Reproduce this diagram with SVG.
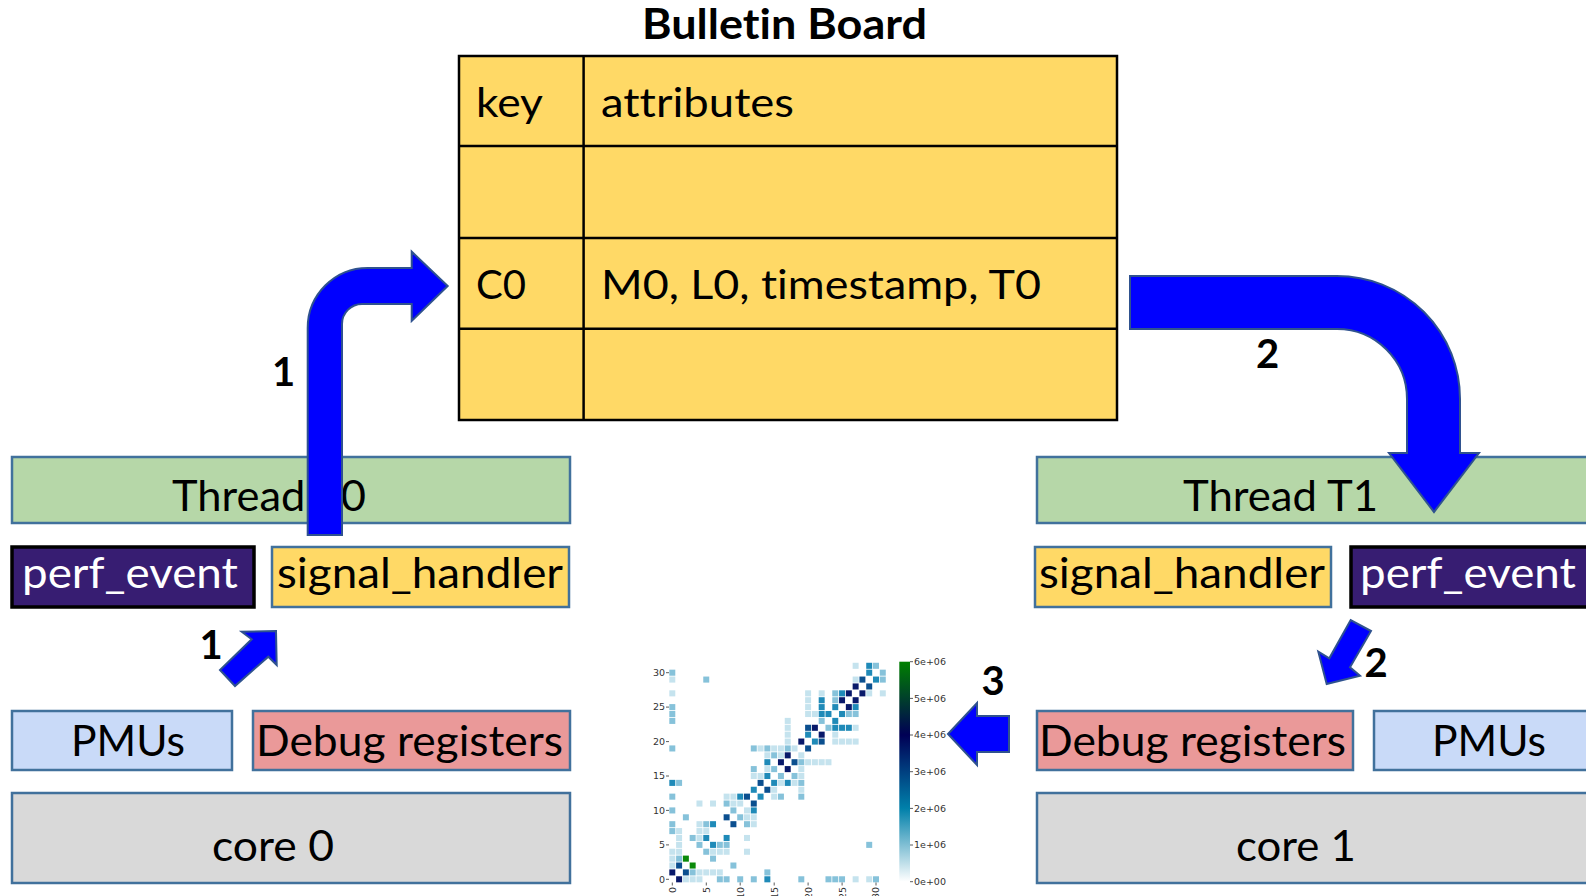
<svg xmlns="http://www.w3.org/2000/svg" width="1586" height="896" viewBox="0 0 1586 896">
<style>
  text { font-variant-ligatures: none; font-feature-settings: "liga" 0; }
  .t { font-family: Lato, "Open Sans", "Liberation Sans", sans-serif; font-size: 42px; fill: #000; }
  .tb { font-family: Lato, "Open Sans", "Liberation Sans", sans-serif; font-size: 40px; fill: #000; }
  .w { fill: #fff; }
  .num { font-family: Lato, "Open Sans", "Liberation Sans", sans-serif; font-size: 40px; font-weight: bold; fill: #000; text-anchor: middle; }
  .box { stroke: #41719c; stroke-width: 2.5; }
  .green { fill: #b6d7a8; }
  .yellow { fill: #ffd966; }
  .purple { fill: #371d72; stroke: #000; stroke-width: 3.5; }
  .pmu { fill: #c9daf8; }
  .dbg { fill: #ea9999; }
  .core { fill: #d9d9d9; }
  .arrow { fill: #0000ff; stroke: #2f528f; stroke-width: 2; stroke-linejoin: miter; }
  .tbl { fill: #ffd966; stroke: #000; stroke-width: 2.5; }
  .tl { stroke: #000; stroke-width: 2.5; }
  .ax { font-family: "DejaVu Sans", sans-serif; font-size: 9.5px; fill: #333; }
  .tick { stroke: #333; stroke-width: 0.8; }
  .L { fill: #c5e3ee; } .M { fill: #86c2da; } .T { fill: #1f8ab8; } .D { fill: #0b4f8f; } .N { fill: #08196a; } .G { fill: #0a8a0a; }
</style>
<defs>
  <linearGradient id="cbar" x1="0" y1="0" x2="0" y2="1">
    <stop offset="0" stop-color="#008000"/>
    <stop offset="0.1667" stop-color="#00402b"/>
    <stop offset="0.3333" stop-color="#000055"/>
    <stop offset="0.5" stop-color="#004080"/>
    <stop offset="0.6667" stop-color="#0080aa"/>
    <stop offset="0.8333" stop-color="#80bfd4"/>
    <stop offset="1" stop-color="#ffffff"/>
  </linearGradient>
  <rect id="c" x="-0.44" y="-0.44" width="0.88" height="0.88"/>
</defs>
<rect width="1586" height="896" fill="#fff"/>

<g id="bulletin-board">
  <text x="642" y="38.5" class="tb" style="font-size:42px;font-weight:bold" textLength="285" lengthAdjust="spacingAndGlyphs">Bulletin Board</text>
  <rect x="459" y="56" width="658" height="364" class="tbl"/>
  <line x1="583.6" y1="56" x2="583.6" y2="420" class="tl"/>
  <line x1="459" y1="146" x2="1117" y2="146" class="tl"/>
  <line x1="459" y1="238" x2="1117" y2="238" class="tl"/>
  <line x1="459" y1="328.7" x2="1117" y2="328.7" class="tl"/>
  <text x="476" y="117" class="tb" textLength="67" lengthAdjust="spacingAndGlyphs">key</text>
  <text x="601" y="117" class="tb" textLength="193" lengthAdjust="spacingAndGlyphs">attributes</text>
  <text x="476" y="299" class="tb" textLength="50" lengthAdjust="spacingAndGlyphs">C0</text>
  <text x="601" y="299" class="tb" textLength="440" lengthAdjust="spacingAndGlyphs">M0, L0, timestamp, T0</text>
</g>

<g id="thread-t0">
  <rect x="12" y="457" width="558" height="66" class="box green"/>
  <text x="172" y="511" class="t" textLength="194" lengthAdjust="spacingAndGlyphs">Thread T0</text>
</g>
<g id="perf-event-0">
  <rect x="12" y="547" width="242" height="60" class="purple"/>
  <text x="22" y="588" class="t w" textLength="216" lengthAdjust="spacingAndGlyphs">perf_event</text>
</g>
<g id="signal-handler-0">
  <rect x="272" y="547" width="297" height="60" class="box yellow"/>
  <text x="277" y="588" class="t" textLength="286" lengthAdjust="spacingAndGlyphs">signal_handler</text>
</g>
<g id="pmus-0">
  <rect x="12" y="711" width="220" height="59" class="box pmu"/>
  <text x="71" y="756" class="t" textLength="114" lengthAdjust="spacingAndGlyphs">PMUs</text>
</g>
<g id="debug-0">
  <rect x="253" y="711" width="317" height="59" class="box dbg"/>
  <text x="256" y="756" class="t" textLength="307" lengthAdjust="spacingAndGlyphs">Debug registers</text>
</g>
<g id="core-0">
  <rect x="12" y="793" width="558" height="90" class="box core"/>
  <text x="212" y="861" class="t" textLength="122" lengthAdjust="spacingAndGlyphs">core 0</text>
</g>

<g id="thread-t1">
  <rect x="1037" y="457" width="560" height="66" class="box green"/>
  <text x="1183" y="511" class="t" textLength="195" lengthAdjust="spacingAndGlyphs">Thread T1</text>
</g>
<g id="signal-handler-1">
  <rect x="1035" y="547" width="296" height="60" class="box yellow"/>
  <text x="1039" y="588" class="t" textLength="286" lengthAdjust="spacingAndGlyphs">signal_handler</text>
</g>
<g id="perf-event-1">
  <rect x="1351" y="547" width="250" height="60" class="purple"/>
  <text x="1360" y="588" class="t w" textLength="216" lengthAdjust="spacingAndGlyphs">perf_event</text>
</g>
<g id="debug-1">
  <rect x="1037" y="711" width="316" height="59" class="box dbg"/>
  <text x="1039" y="756" class="t" textLength="307" lengthAdjust="spacingAndGlyphs">Debug registers</text>
</g>
<g id="pmus-1">
  <rect x="1374" y="711" width="230" height="59" class="box pmu"/>
  <text x="1432" y="756" class="t" textLength="114" lengthAdjust="spacingAndGlyphs">PMUs</text>
</g>
<g id="core-1">
  <rect x="1037" y="793" width="560" height="90" class="box core"/>
  <text x="1236" y="861" class="t" textLength="120" lengthAdjust="spacingAndGlyphs">core 1</text>
</g>

<g id="heatmap">
  <g transform="translate(672.3 879.3) scale(6.79 -6.887)">
    <use href="#c" x="27" y="31" class="L"/><use href="#c" x="29" y="31" class="T"/><use href="#c" x="30" y="31" class="M"/>
    <use href="#c" x="0" y="30" class="M"/><use href="#c" x="29" y="30" class="T"/><use href="#c" x="31" y="30" class="M"/>
    <use href="#c" x="0" y="29" class="L"/><use href="#c" x="5" y="29" class="M"/><use href="#c" x="27" y="29" class="L"/><use href="#c" x="28" y="29" class="D"/><use href="#c" x="30" y="29" class="T"/><use href="#c" x="31" y="29" class="M"/>
    <use href="#c" x="27" y="28" class="N"/><use href="#c" x="29" y="28" class="D"/>
    <use href="#c" x="0" y="27" class="L"/><use href="#c" x="20" y="27" class="L"/><use href="#c" x="22" y="27" class="L"/><use href="#c" x="24" y="27" class="M"/><use href="#c" x="25" y="27" class="T"/><use href="#c" x="26" y="27" class="N"/><use href="#c" x="28" y="27" class="N"/><use href="#c" x="29" y="27" class="L"/><use href="#c" x="31" y="27" class="L"/>
    <use href="#c" x="20" y="26" class="L"/><use href="#c" x="22" y="26" class="T"/><use href="#c" x="24" y="26" class="M"/><use href="#c" x="25" y="26" class="N"/><use href="#c" x="27" y="26" class="N"/>
    <use href="#c" x="0" y="25" class="M"/><use href="#c" x="20" y="25" class="L"/><use href="#c" x="22" y="25" class="T"/><use href="#c" x="24" y="25" class="T"/><use href="#c" x="26" y="25" class="N"/><use href="#c" x="27" y="25" class="T"/>
    <use href="#c" x="0" y="24" class="M"/><use href="#c" x="20" y="24" class="L"/><use href="#c" x="21" y="24" class="L"/><use href="#c" x="22" y="24" class="T"/><use href="#c" x="23" y="24" class="T"/><use href="#c" x="25" y="24" class="T"/><use href="#c" x="26" y="24" class="M"/><use href="#c" x="27" y="24" class="M"/>
    <use href="#c" x="0" y="23" class="M"/><use href="#c" x="17" y="23" class="L"/><use href="#c" x="22" y="23" class="M"/><use href="#c" x="24" y="23" class="T"/>
    <use href="#c" x="17" y="22" class="L"/><use href="#c" x="20" y="22" class="D"/><use href="#c" x="21" y="22" class="N"/><use href="#c" x="23" y="22" class="M"/><use href="#c" x="24" y="22" class="T"/><use href="#c" x="25" y="22" class="T"/><use href="#c" x="26" y="22" class="T"/><use href="#c" x="27" y="22" class="L"/>
    <use href="#c" x="17" y="21" class="L"/><use href="#c" x="20" y="21" class="T"/><use href="#c" x="22" y="21" class="N"/><use href="#c" x="24" y="21" class="L"/>
    <use href="#c" x="17" y="20" class="L"/><use href="#c" x="19" y="20" class="N"/><use href="#c" x="21" y="20" class="T"/><use href="#c" x="22" y="20" class="D"/><use href="#c" x="24" y="20" class="L"/><use href="#c" x="25" y="20" class="L"/><use href="#c" x="26" y="20" class="L"/><use href="#c" x="27" y="20" class="L"/>
    <use href="#c" x="0" y="19" class="M"/><use href="#c" x="12" y="19" class="M"/><use href="#c" x="13" y="19" class="L"/><use href="#c" x="14" y="19" class="M"/><use href="#c" x="15" y="19" class="L"/><use href="#c" x="16" y="19" class="L"/><use href="#c" x="17" y="19" class="M"/><use href="#c" x="18" y="19" class="L"/><use href="#c" x="20" y="19" class="D"/>
    <use href="#c" x="14" y="18" class="L"/><use href="#c" x="15" y="18" class="M"/><use href="#c" x="16" y="18" class="L"/><use href="#c" x="17" y="18" class="N"/><use href="#c" x="19" y="18" class="L"/>
    <use href="#c" x="14" y="17" class="T"/><use href="#c" x="16" y="17" class="N"/><use href="#c" x="18" y="17" class="D"/><use href="#c" x="19" y="17" class="M"/><use href="#c" x="20" y="17" class="L"/><use href="#c" x="21" y="17" class="L"/><use href="#c" x="22" y="17" class="L"/><use href="#c" x="23" y="17" class="L"/>
    <use href="#c" x="12" y="16" class="M"/><use href="#c" x="14" y="16" class="L"/><use href="#c" x="15" y="16" class="M"/><use href="#c" x="17" y="16" class="N"/><use href="#c" x="19" y="16" class="L"/>
    <use href="#c" x="12" y="15" class="L"/><use href="#c" x="13" y="15" class="L"/><use href="#c" x="14" y="15" class="T"/><use href="#c" x="16" y="15" class="M"/><use href="#c" x="18" y="15" class="M"/><use href="#c" x="19" y="15" class="L"/>
    <use href="#c" x="0" y="14" class="T"/><use href="#c" x="1" y="14" class="M"/><use href="#c" x="13" y="14" class="D"/><use href="#c" x="15" y="14" class="T"/><use href="#c" x="16" y="14" class="L"/><use href="#c" x="17" y="14" class="T"/><use href="#c" x="18" y="14" class="L"/><use href="#c" x="19" y="14" class="M"/>
    <use href="#c" x="12" y="13" class="T"/><use href="#c" x="14" y="13" class="D"/><use href="#c" x="15" y="13" class="L"/><use href="#c" x="19" y="13" class="L"/>
    <use href="#c" x="0" y="12" class="M"/><use href="#c" x="8" y="12" class="L"/><use href="#c" x="9" y="12" class="L"/><use href="#c" x="10" y="12" class="T"/><use href="#c" x="11" y="12" class="D"/><use href="#c" x="13" y="12" class="T"/><use href="#c" x="15" y="12" class="L"/><use href="#c" x="16" y="12" class="M"/><use href="#c" x="19" y="12" class="M"/>
    <use href="#c" x="4" y="11" class="L"/><use href="#c" x="6" y="11" class="L"/><use href="#c" x="8" y="11" class="M"/><use href="#c" x="9" y="11" class="L"/><use href="#c" x="10" y="11" class="L"/><use href="#c" x="12" y="11" class="D"/>
    <use href="#c" x="0" y="10" class="M"/><use href="#c" x="9" y="10" class="M"/><use href="#c" x="11" y="10" class="L"/><use href="#c" x="12" y="10" class="T"/>
    <use href="#c" x="2" y="9" class="M"/><use href="#c" x="8" y="9" class="D"/><use href="#c" x="10" y="9" class="M"/><use href="#c" x="11" y="9" class="L"/><use href="#c" x="12" y="9" class="L"/>
    <use href="#c" x="0" y="8" class="M"/><use href="#c" x="4" y="8" class="L"/><use href="#c" x="5" y="8" class="M"/><use href="#c" x="6" y="8" class="T"/><use href="#c" x="9" y="8" class="D"/><use href="#c" x="11" y="8" class="M"/><use href="#c" x="12" y="8" class="L"/>
    <use href="#c" x="0" y="7" class="M"/><use href="#c" x="1" y="7" class="L"/><use href="#c" x="4" y="7" class="L"/><use href="#c" x="5" y="7" class="L"/>
    <use href="#c" x="1" y="6" class="L"/><use href="#c" x="3" y="6" class="M"/><use href="#c" x="4" y="6" class="L"/><use href="#c" x="5" y="6" class="T"/><use href="#c" x="8" y="6" class="T"/><use href="#c" x="11" y="6" class="L"/>
    <use href="#c" x="1" y="5" class="L"/><use href="#c" x="4" y="5" class="M"/><use href="#c" x="6" y="5" class="T"/><use href="#c" x="7" y="5" class="M"/><use href="#c" x="8" y="5" class="M"/><use href="#c" x="29" y="5" class="M"/>
    <use href="#c" x="0" y="4" class="L"/><use href="#c" x="1" y="4" class="L"/><use href="#c" x="5" y="4" class="M"/><use href="#c" x="6" y="4" class="L"/><use href="#c" x="7" y="4" class="L"/><use href="#c" x="8" y="4" class="L"/><use href="#c" x="11" y="4" class="L"/>
    <use href="#c" x="0" y="3" class="L"/><use href="#c" x="1" y="3" class="M"/><use href="#c" x="2" y="3" class="G"/><use href="#c" x="6" y="3" class="M"/>
    <use href="#c" x="0" y="2" class="L"/><use href="#c" x="1" y="2" class="D"/><use href="#c" x="3" y="2" class="G"/><use href="#c" x="9" y="2" class="M"/>
    <use href="#c" x="0" y="1" class="N"/><use href="#c" x="2" y="1" class="D"/><use href="#c" x="3" y="1" class="M"/><use href="#c" x="4" y="1" class="L"/><use href="#c" x="5" y="1" class="L"/><use href="#c" x="6" y="1" class="L"/><use href="#c" x="7" y="1" class="L"/><use href="#c" x="14" y="1" class="M"/>
    <use href="#c" x="1" y="0" class="N"/><use href="#c" x="2" y="0" class="L"/><use href="#c" x="3" y="0" class="L"/><use href="#c" x="4" y="0" class="L"/><use href="#c" x="7" y="0" class="M"/><use href="#c" x="8" y="0" class="M"/><use href="#c" x="10" y="0" class="M"/><use href="#c" x="12" y="0" class="M"/><use href="#c" x="14" y="0" class="T"/><use href="#c" x="19" y="0" class="M"/><use href="#c" x="23" y="0" class="M"/><use href="#c" x="24" y="0" class="M"/><use href="#c" x="25" y="0" class="M"/><use href="#c" x="27" y="0" class="L"/><use href="#c" x="29" y="0" class="L"/><use href="#c" x="30" y="0" class="M"/>
  </g>
  <g class="tick">
    <line x1="666" y1="672.7" x2="669" y2="672.7"/><line x1="666" y1="707.1" x2="669" y2="707.1"/><line x1="666" y1="741.6" x2="669" y2="741.6"/><line x1="666" y1="776" x2="669" y2="776"/><line x1="666" y1="810.4" x2="669" y2="810.4"/><line x1="666" y1="844.9" x2="669" y2="844.9"/><line x1="666" y1="879.3" x2="669" y2="879.3"/>
    <line x1="672.3" y1="882.5" x2="672.3" y2="885.5"/><line x1="706.3" y1="882.5" x2="706.3" y2="885.5"/><line x1="740.2" y1="882.5" x2="740.2" y2="885.5"/><line x1="774.2" y1="882.5" x2="774.2" y2="885.5"/><line x1="808.1" y1="882.5" x2="808.1" y2="885.5"/><line x1="842.1" y1="882.5" x2="842.1" y2="885.5"/><line x1="876" y1="882.5" x2="876" y2="885.5"/>
    <line x1="910" y1="661.7" x2="913" y2="661.7"/><line x1="910" y1="698.4" x2="913" y2="698.4"/><line x1="910" y1="735" x2="913" y2="735"/><line x1="910" y1="771.7" x2="913" y2="771.7"/><line x1="910" y1="808.4" x2="913" y2="808.4"/><line x1="910" y1="845" x2="913" y2="845"/><line x1="910" y1="881.7" x2="913" y2="881.7"/>
  </g>
  <g class="ax" text-anchor="end">
    <text x="665" y="676">30</text><text x="665" y="710.4">25</text><text x="665" y="744.9">20</text><text x="665" y="779.3">15</text><text x="665" y="813.7">10</text><text x="665" y="848.2">5</text><text x="665" y="882.6">0</text>
    <text transform="translate(675.7 887) rotate(-90)">0</text>
    <text transform="translate(709.7 887) rotate(-90)">5</text>
    <text transform="translate(743.6 887) rotate(-90)">10</text>
    <text transform="translate(777.6 887) rotate(-90)">15</text>
    <text transform="translate(811.5 887) rotate(-90)">20</text>
    <text transform="translate(845.5 887) rotate(-90)">25</text>
    <text transform="translate(879.4 887) rotate(-90)">30</text>
  </g>
  <rect x="899.3" y="661.7" width="10.7" height="220" fill="url(#cbar)"/>
  <g class="ax">
    <text x="914" y="665">6e+06</text><text x="914" y="701.7">5e+06</text><text x="914" y="738.3">4e+06</text><text x="914" y="775">3e+06</text><text x="914" y="811.7">2e+06</text><text x="914" y="848.3">1e+06</text><text x="914" y="885">0e+00</text>
  </g>
</g>

<g id="connectors">
  <path class="arrow" d="M307.7,535 L307.7,328 A60,60 0 0 1 367.7,268 L411.7,268 L411.7,251.7 L447.7,286 L411.7,321 L411.7,304 L362,304 A20,20 0 0 0 342,324 L342,535 Z"/>
  <path class="arrow" d="M1130,276 L1337,276 A123,123 0 0 1 1460,399 L1460,453 L1479,453 L1434,512 L1389,453 L1407,453 L1407,399 A70,70 0 0 0 1337,329 L1130,329 Z"/>
  <polygon class="arrow" points="276,631 276.7,665 268.3,656.7 235,686 220,670 251.7,639.3 241.7,631.7"/>
  <polygon class="arrow" points="1326.7,684 1360,675.7 1350,667.3 1371,631 1350.7,620 1329.3,658.3 1318.3,651.7"/>
  <polygon class="arrow" points="948,734 977,703 977,716 1009,716 1009,752 977,752 977,765"/>
  <text class="num" x="283.5" y="386">1</text>
  <text class="num" x="211" y="659">1</text>
  <text class="num" x="1267.5" y="368">2</text>
  <text class="num" x="1376" y="677">2</text>
  <text class="num" x="993" y="695">3</text>
</g>
</svg>
